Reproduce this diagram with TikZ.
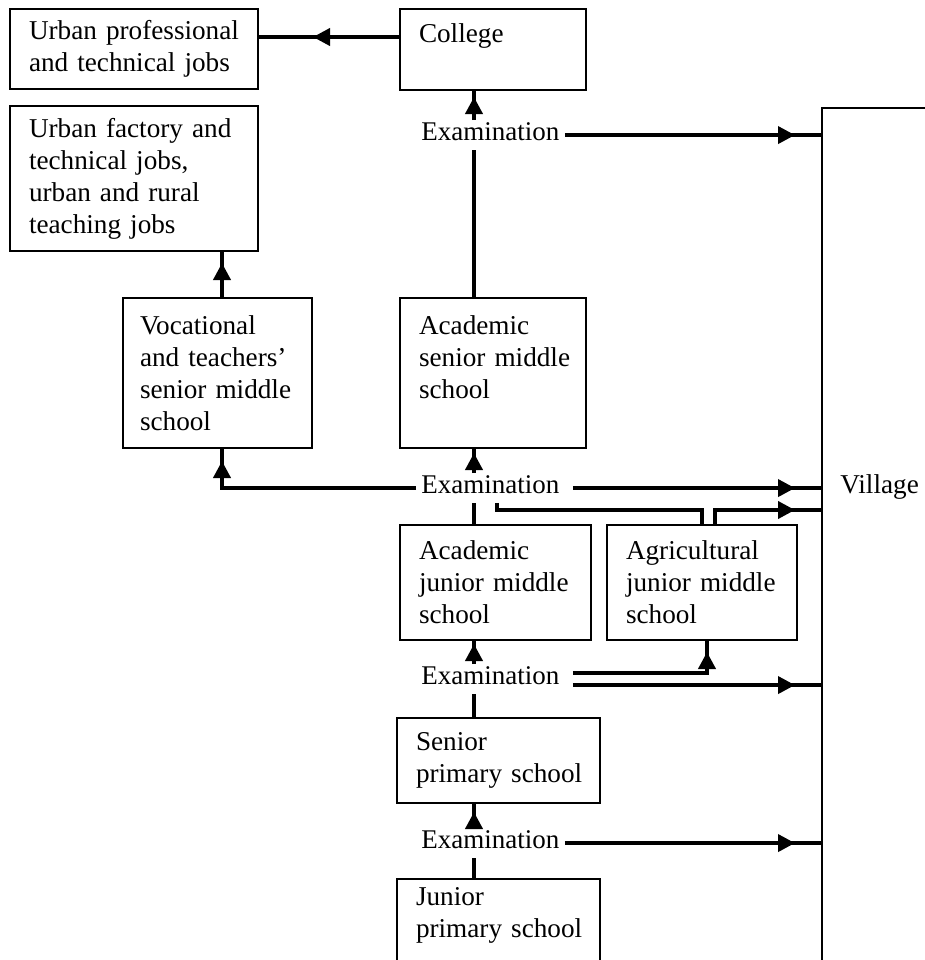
\documentclass[tikz,border=0pt]{standalone}
\usepackage{fontspec}
\setmainfont{Liberation Serif}
\usetikzlibrary{arrows.meta,decorations.markings}
\begin{document}
\begin{tikzpicture}[x=0.5pt,y=-0.5pt,
  box/.style={draw, line width=0.8pt, anchor=north west, inner xsep=9.5pt, inner ysep=0pt, outer sep=0pt, align=left, font=\fontsize{13.6}{16}\selectfont},
  exam/.style={anchor=base west, inner xsep=2.5pt, inner ysep=0.75pt, text depth=4pt, font=\fontsize{13.5}{16}\selectfont},
  conn/.style={line width=1.9pt},
  tipat/.style={postaction={decorate,decoration={markings,mark=at position #1 with {\arrow{Triangle[length=8.5pt,width=8.5pt]}}}}},
]
\useasboundingbox (0,0) rectangle (925,960);
\clip (0,0) rectangle (925,960);

% boxes
\node[box, minimum width=124pt, minimum height=40pt, text width=105pt] (prof) at (10,9) {\mbox{Urban professional}\\\mbox{and technical jobs}};
\node[box, minimum width=124pt, minimum height=72.5pt, text width=105pt] (fact) at (10,106) {\mbox{Urban factory and}\\\mbox{technical jobs,}\\\mbox{urban and rural}\\\mbox{teaching jobs}};
\node[box, minimum width=93pt, minimum height=40.5pt, text width=74pt] (college) at (400,9) {College\\\mbox{}};
\node[box, minimum width=94.5pt, minimum height=75pt, inner xsep=8.5pt, text width=77.5pt] (voc) at (123,298) {Vocational\\\mbox{and teachers’}\\\mbox{senior middle}\\school};
\node[box, minimum width=93pt, minimum height=75pt, text width=74pt] (acsen) at (400,298) {Academic\\\mbox{senior middle}\\school\\\mbox{}};
\node[box, minimum width=95.5pt, minimum height=57.5pt, text width=76.5pt] (acjun) at (400,525) {Academic\\\mbox{junior middle}\\school};
\node[box, minimum width=95pt, minimum height=57.5pt, text width=76pt] (agri) at (607,525) {Agricultural\\\mbox{junior middle}\\school};
\node[box, minimum width=101.5pt, minimum height=42.5pt, text width=82.5pt] (senprim) at (397,718) {Senior\\\mbox{primary school}};
\node[box, minimum width=101.5pt, minimum height=49pt, text width=82.5pt] (junprim) at (397,879) {Junior\\\mbox{primary school}\\\mbox{}};
\node[draw, line width=0.6pt, anchor=north west, minimum width=200pt, minimum height=600pt, outer sep=0pt, inner sep=0pt] (vill) at (822,108) {};
\node[anchor=base west, inner sep=0pt, font=\fontsize{13.6}{16}\selectfont] (villtxt) at (840,493) {Village};

% examinations
\node[exam] (ex1) at (416,140) {Examination};
\node[exam] (ex2) at (416,493) {Examination};
\node[exam] (ex3) at (416,684) {Examination};
\node[exam] (ex4) at (416,848) {Examination};

% helper coordinates
\coordinate (sp) at (474,0);
\coordinate (cv) at (222,0);
\coordinate (ca) at (497,0);
\coordinate (cb) at (702,0);
\coordinate (cc) at (715,0);
\coordinate (cd) at (707,0);
\coordinate (r1) at (0,37);
\coordinate (r2) at (0,510);
\coordinate (e2r) at ([xshift=4pt]ex2.east);
\coordinate (e3u) at ([xshift=4pt,yshift=3pt]ex3.east);
\coordinate (e3d) at ([xshift=4pt,yshift=-3pt]ex3.east);

% connectors
\draw[conn,tipat=-27.5pt] (college.west |- r1) -- (prof.east |- r1);
\draw[conn,tipat=-3.5pt] (ex1.north -| sp) -- (college.south -| sp);
\draw[conn] (acsen.north -| sp) -- (ex1.south -| sp);
\draw[conn,tipat=-13.5pt] (ex1.east) -- (ex1.east -| vill.west);
\draw[conn,tipat=-6pt] (voc.north -| cv) -- (fact.south -| cv);
\draw[conn,tipat=-2.5pt] (ex2.north -| sp) -- (acsen.south -| sp);
\draw[conn,tipat=-6.5pt] (ex2.west) -- (ex2.west -| cv) -- (voc.south -| cv);
\draw[conn,tipat=-13.5pt] (e2r) -- (e2r -| vill.west);
\draw[conn] (acjun.north -| sp) -- (ex2.south -| sp);
\draw[conn] (ex2.south -| ca) -- (r2 -| ca) -- (r2 -| cb) -- (agri.north -| cb);
\draw[conn,tipat=-13.5pt] (agri.north -| cc) -- (r2 -| cc) -- (r2 -| vill.west);
\draw[conn,tipat=-2pt] (ex3.north -| sp) -- (acjun.south -| sp);
\draw[conn,tipat=-6pt] (e3u) -- (e3u -| cd) -- (agri.south -| cd);
\draw[conn,tipat=-13.5pt] (e3d) -- (e3d -| vill.west);
\draw[conn] (senprim.north -| sp) -- (ex3.south -| sp);
\draw[conn,tipat=-4.5pt] (ex4.north -| sp) -- (senprim.south -| sp);
\draw[conn,tipat=-13.5pt] (ex4.east) -- (ex4.east -| vill.west);
\draw[conn] (junprim.north -| sp) -- (ex4.south -| sp);
\end{tikzpicture}
\end{document}
